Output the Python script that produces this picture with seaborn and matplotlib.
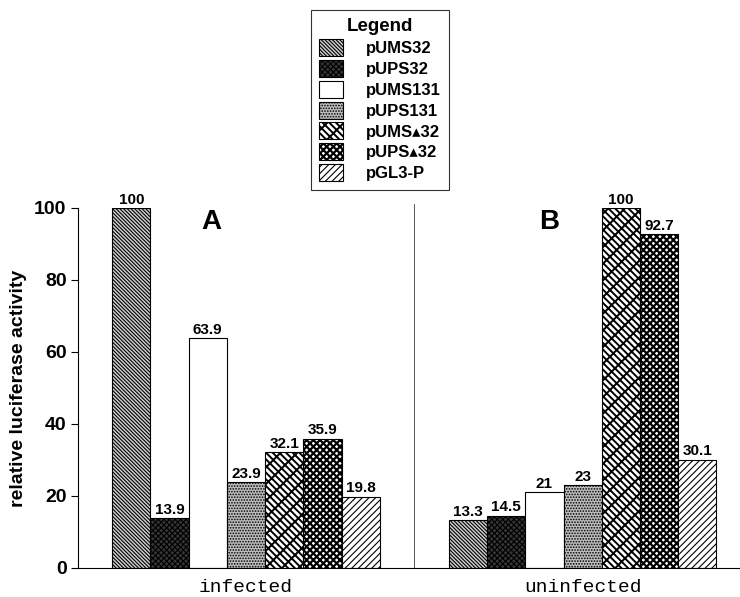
import pandas as pd
import matplotlib.pyplot as plt
import seaborn as sns
from matplotlib.patches import Patch

# values
conditions = ["infected", "uninfected"]
constructs = ["pUMS32", "pUPS32", "pUMS131", "pUPS131", "pUMS\u25b432", "pUPS\u25b432", "pGL3-P"]
infected_vals = [100, 13.9, 63.9, 23.9, 32.1, 35.9, 19.8]
uninfected_vals = [13.3, 14.5, 21, 23, 100, 92.7, 30.1]

face_colors = ["#cfcfcf", "#353535", "#ffffff", "#bdbdbd", "#ffffff", "#ffffff", "#ffffff"]
hatches = ["\\" * 9, "x" * 6, "", "." * 6, "xx" + "\\" * 3, "x" * 5, "/" * 5]
hatch_widths = [0.8, 0.8, 0.8, 0.8, 1.4, 1.6, 0.8]

rows = []
for cond, vals in zip(conditions, [infected_vals, uninfected_vals]):
    for name, v in zip(constructs, vals):
        rows.append({"condition": cond, "construct": name, "value": v})
df = pd.DataFrame(rows)

sns.set_style("white")
plt.rcParams["font.family"] = ["Liberation Sans", "DejaVu Sans"]
plt.rcParams["text.color"] = "black"
plt.rcParams["axes.labelcolor"] = "black"
plt.rcParams["xtick.color"] = "black"
plt.rcParams["ytick.color"] = "black"
plt.rcParams["hatch.linewidth"] = 0.8

fig = plt.figure(figsize=(7.4, 5.97), dpi=100)
ax = fig.add_axes([0.105, 0.0486, 0.893, 0.603])

sns.barplot(data=df, x="condition", y="value", hue="construct", order=conditions,
            hue_order=constructs, palette=face_colors, saturation=1, width=0.795,
            edgecolor="black", linewidth=0.8, legend=False, ax=ax)


def set_hatch(patch, h, w):
    patch.set_hatch(h)
    if hasattr(patch, "set_hatch_linewidth"):
        patch.set_hatch_linewidth(w)
    else:
        patch._hatch_linewidth = w


for i, cont in enumerate(ax.containers):
    for bar in cont:
        set_hatch(bar, hatches[i], hatch_widths[i])
    ax.bar_label(cont, fmt="%g", padding=1, fontsize=11, fontweight="bold",
                 color="black", clip_on=False)

ax.set_xlim(-0.5, 1.463)
ax.set_ylim(0, 100)
ax.set_yticks([0, 20, 40, 60, 80, 100])
ax.tick_params(axis="y", length=5, width=0.8, direction="out", left=True, labelsize=14, pad=3)
for lbl in ax.get_yticklabels():
    lbl.set_fontweight("bold")
ax.tick_params(axis="x", length=0, pad=8)
for lbl in ax.get_xticklabels():
    lbl.set_fontfamily("Liberation Mono")
    lbl.set_fontsize(14)
ax.set_xlabel("")
ax.set_ylabel("relative luciferase activity", fontsize=14, fontweight="bold", labelpad=5)
sns.despine(ax=ax, top=True, right=True)
ax.spines["left"].set_linewidth(0.8)
ax.spines["bottom"].set_linewidth(0.8)
ax.spines["left"].set_color("black")
ax.spines["bottom"].set_color("black")

# divider between the two panels
ax.axvline(0.5, ymin=0, ymax=1.01, color="#555555", linewidth=0.7, clip_on=False)
ax.text(-0.104, 96, "A", fontsize=20, fontweight="bold", ha="center", va="center")
ax.text(0.899, 96, "B", fontsize=20, fontweight="bold", ha="center", va="center")

handles = []
for c, h, w in zip(face_colors, hatches, hatch_widths):
    p = Patch(facecolor=c, edgecolor="black", linewidth=0.8)
    set_hatch(p, h, w)
    handles.append(p)
leg = fig.legend(handles, constructs, title="Legend", loc="upper left",
                 bbox_to_anchor=(311 / 740, 1 - 10 / 597), frameon=True, fancybox=False,
                 edgecolor="black", prop={"weight": "bold", "size": 12},
                 title_fontproperties={"weight": "bold", "size": 13.5},
                 handlelength=1.4, handleheight=1.2, handletextpad=1.4,
                 labelspacing=0.22, borderpad=0.5, borderaxespad=0)
leg.get_frame().set_linewidth(0.8)
for lh, w in zip(leg.legend_handles, hatch_widths):
    set_hatch(lh, lh.get_hatch(), w)

fig.savefig("out.png", dpi=100)
